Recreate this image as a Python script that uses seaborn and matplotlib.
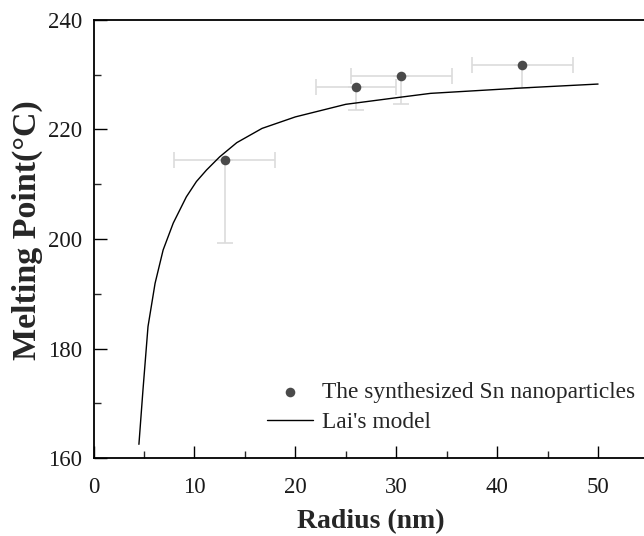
import numpy as np
import pandas as pd
import matplotlib
matplotlib.use("Agg")
import matplotlib.pyplot as plt
import seaborn as sns
from matplotlib.ticker import MultipleLocator

# Data
exp_radius = [13.0, 26.0, 30.5, 42.5]
exp_tm = [214.5, 227.8, 229.8, 231.7]
exp_xerr = [5.0, 4.0, 5.0, 5.0]
exp_yerr_low = [15.3, 4.3, 5.2, 4.2]

model_radius = [4.5, 4.9, 5.4, 6.1, 6.9, 7.9, 9.2, 10.2, 11.2, 12.5, 14.2, 16.7,
                20.0, 25.0, 30.0, 33.4, 42.6, 50.0]
model_tm = [162.5, 172.4, 184.0, 191.9, 198.0, 202.9, 207.7, 210.5, 212.6, 215.0,
            217.6, 220.2, 222.3, 224.6, 225.8, 226.6, 227.6, 228.3]

x_ticks = [0, 10, 20, 30, 40, 50]
y_ticks = [160, 180, 200, 220, 240]

sns.set_style("ticks")
plt.rcParams['font.family'] = ['Liberation Serif', 'DejaVu Serif']

fig = plt.figure(figsize=(6.44, 5.36), dpi=100)
ax = fig.add_axes([0.1452, 0.1455, 0.8618, 0.8172])

df_model = pd.DataFrame({"r": model_radius, "T": model_tm})
df_exp = pd.DataFrame({"r": exp_radius, "T": exp_tm})

ax.errorbar(exp_radius, exp_tm, xerr=exp_xerr,
            yerr=[exp_yerr_low, [0] * len(exp_tm)],
            fmt='none', ecolor='#dcdcdc', elinewidth=1.2, capsize=6, capthick=1.2,
            zorder=1)
sns.lineplot(data=df_model, x="r", y="T", ax=ax, color='black', linewidth=1.0,
             label="Lai's model", zorder=2, sort=False)
sns.scatterplot(data=df_exp, x="r", y="T", ax=ax, color='#4a4a4a', s=48,
                edgecolor='#4a4a4a', linewidth=0, label="The synthesized Sn nanoparticles",
                zorder=3)

ax.set_xlim(0, 55)
ax.set_ylim(160, 240)
ax.set_xticks(x_ticks)
ax.set_yticks(y_ticks)
ax.xaxis.set_minor_locator(MultipleLocator(5))
ax.yaxis.set_minor_locator(MultipleLocator(10))
ax.tick_params(which='major', direction='in', length=9, width=1.0, labelsize=16.5,
               color='black', labelcolor='#1a1a1a')
ax.tick_params(which='minor', direction='in', length=5, width=1.0)
ax.tick_params(axis='x', pad=14)
ax.tick_params(axis='y', pad=8.0)

for s in ['left', 'bottom', 'top']:
    ax.spines[s].set_color('black')
    ax.spines[s].set_linewidth(1.3)
ax.spines['right'].set_visible(False)

ax.set_xlabel("Radius (nm)", fontsize=20, fontweight='bold', labelpad=8)
ax.set_ylabel("Melting Point(°C)", fontsize=24.5, fontweight='bold')
ax.yaxis.set_label_coords(-0.091, 0.52)

h, l = ax.get_legend_handles_labels()
order = [l.index("The synthesized Sn nanoparticles"), l.index("Lai's model")]
ax.legend([h[i] for i in order], [l[i] for i in order], loc='upper left',
          bbox_to_anchor=(267 / 644, 1 - 382 / 536), bbox_transform=fig.transFigure,
          frameon=False, fontsize=16.8,
          handlelength=1.95, handletextpad=0.4, labelspacing=0.36, borderpad=0,
          borderaxespad=0)

fig.savefig("out.png", dpi=100)
